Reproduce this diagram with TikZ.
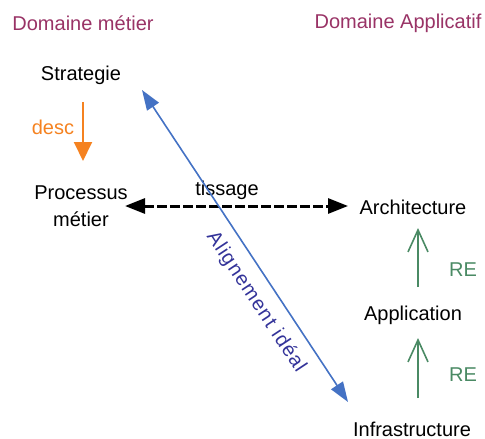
\documentclass[tikz,border=0pt]{standalone}
\usepackage{fontspec}
\setmainfont{Liberation Sans}
\newfontfamily\spacedfont[LetterSpace=6]{Liberation Sans}
\usetikzlibrary{arrows.meta}
\definecolor{domcol}{RGB}{153,51,102}
\definecolor{desccol}{RGB}{245,130,32}
\definecolor{aligncol}{RGB}{68,114,196}
\definecolor{aligntext}{RGB}{51,51,153}
\definecolor{recol}{RGB}{74,138,100}
\begin{document}
\begin{tikzpicture}[x=0.5pt,y=-0.5pt,
  every node/.style={font=\fontsize{10pt}{13.5pt}\selectfont, inner sep=0pt},
  domhead/.style={text=domcol},
  itemtext/.style={text=black, align=center},
  relabel/.style={text=recol},
  descarrow/.style={draw=desccol, line width=1pt, -{Triangle[length=9.5pt,width=9pt]}},
  weave/.style={draw=black, line width=1.5pt, dash pattern=on 5pt off 1.5pt,
    {Triangle[length=10pt,width=7.5pt]}-{Triangle[length=10pt,width=7.5pt]}},
  alignarrow/.style={draw=aligncol, line width=0.8pt,
    {Triangle[length=10pt,width=7pt]}-{Triangle[length=10pt,width=7pt]}},
  rearrow/.style={draw=recol, line width=0.8pt, -{Straight Barb[length=11pt,width=10pt]}}]
\useasboundingbox (0,0) rectangle (485,438);

% domain headings
\node[domhead] (dmetier) at (83,23) {Domaine métier};
\node[domhead] (dappli) at (398,23) {Domaine Applicatif};

% business side
\node[itemtext] (strat) at (81,75) {Strategie};
\node[itemtext] (proc) at (81,206) {Processus\\métier};
\node[text=desccol] (desc) at (53,127) {desc};

% application side
\node[itemtext] (arch) at (413,207) {Architecture};
\node[itemtext] (appl) at (413,315) {Application};
\node[itemtext] (infra) at (412,429) {Infrastructure};
\node[relabel] (re1) at (463,270) {RE};
\node[relabel] (re2) at (463,375) {RE};

% connector end points
\coordinate (descA) at (83,102);
\coordinate (descB) at (83,161);
\coordinate (weaveA) at (125,206);
\coordinate (weaveB) at (348,206);
\coordinate (alignA) at (142,90);
\coordinate (alignB) at (348,402);
\coordinate (re1A) at (418,287);
\coordinate (re1B) at (418,228);
\coordinate (re2A) at (418,398);
\coordinate (re2B) at (418,338);

% connectors
\draw[descarrow] (descA) -- (descB);
\draw[weave] (weaveA) -- (weaveB);
\node (tiss) at (227,190) {tissage};
\draw[alignarrow] (alignA) -- (alignB);
\node[text=aligntext, rotate=-56.6, font=\spacedfont\fontsize{10pt}{12pt}\selectfont]
  (align) at (256,302) {Alignement idéal};
\draw[rearrow] (re1A) -- (re1B);
\draw[rearrow] (re2A) -- (re2B);
\end{tikzpicture}
\end{document}
